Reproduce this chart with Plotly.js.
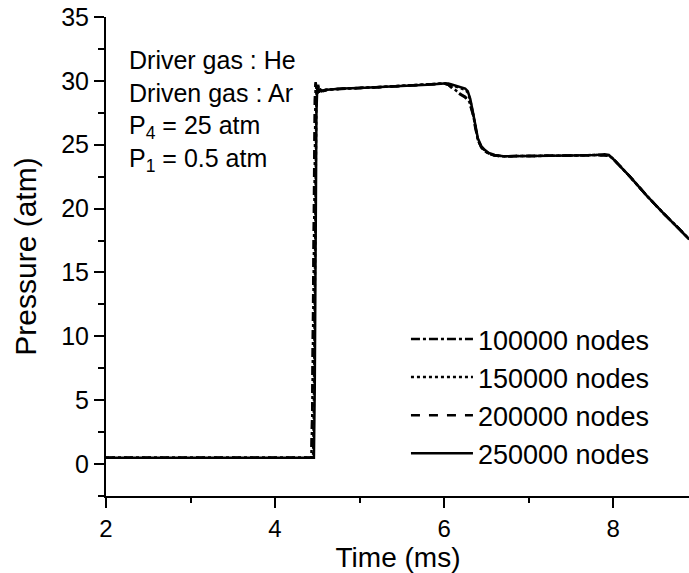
<!DOCTYPE html>
<html>
<head>
<meta charset="utf-8">
<script src="https://cdn.plot.ly/plotly-3.0.1.min.js"></script>
<style>
html,body{margin:0;padding:0;overflow:hidden;background:#fff;}
#chart{width:691px;height:573px;}
</style>
</head>
<body>
<div id="chart"></div>
<script>
// ---- data ----
const seriesNames = ["100000 nodes", "150000 nodes", "200000 nodes", "250000 nodes"];

const t100 = [2.0, 3.0, 4.0, 4.43, 4.44, 4.45, 4.46, 4.47, 4.48, 4.50, 4.52, 4.55, 4.6, 4.7, 4.8, 5.0, 5.2, 5.5, 5.8, 6.0, 6.05, 6.1, 6.15, 6.2, 6.25, 6.3, 6.34, 6.37, 6.40, 6.44, 6.48, 6.53, 6.6, 6.7, 6.9, 7.2, 7.5, 7.8, 7.9, 7.95, 8.0, 8.2, 8.4, 8.6, 8.8, 8.9];
const p100 = [0.5, 0.5, 0.5, 0.5, 3.5, 11.0, 21.0, 28.0, 29.8, 29.1, 29.4, 29.2, 29.3, 29.35, 29.4, 29.45, 29.5, 29.6, 29.7, 29.8, 29.7, 29.45, 29.15, 28.95, 28.75, 28.35, 27.5, 26.4, 25.4, 24.8, 24.5, 24.3, 24.15, 24.1, 24.1, 24.1, 24.15, 24.2, 24.2, 24.15, 23.9, 22.5, 21.0, 19.6, 18.3, 17.6];

const t150 = [2.0, 3.0, 4.0, 4.45, 4.46, 4.47, 4.48, 4.49, 4.50, 4.51, 4.52, 4.54, 4.57, 4.62, 4.7, 4.8, 5.0, 5.2, 5.5, 5.8, 6.0, 6.05, 6.1, 6.15, 6.2, 6.25, 6.28, 6.31, 6.34, 6.37, 6.40, 6.44, 6.48, 6.53, 6.6, 6.7, 6.9, 7.2, 7.5, 7.8, 7.9, 7.95, 8.0, 8.2, 8.4, 8.6, 8.8, 8.9];
const p150 = [0.5, 0.5, 0.5, 0.5, 5.0, 16.0, 26.5, 29.5, 29.1, 29.6, 29.2, 29.3, 29.2, 29.3, 29.35, 29.4, 29.45, 29.5, 29.6, 29.7, 29.8, 29.75, 29.65, 29.5, 29.4, 29.3, 29.1, 28.5, 27.5, 26.3, 25.4, 24.85, 24.55, 24.3, 24.15, 24.1, 24.1, 24.1, 24.15, 24.2, 24.2, 24.15, 23.9, 22.5, 21.0, 19.6, 18.3, 17.6];

const t200 = [2.0, 3.0, 4.0, 4.43, 4.44, 4.45, 4.46, 4.47, 4.48, 4.50, 4.52, 4.55, 4.6, 4.7, 4.8, 5.0, 5.2, 5.5, 5.8, 6.0, 6.05, 6.1, 6.15, 6.2, 6.25, 6.3, 6.34, 6.37, 6.40, 6.44, 6.48, 6.53, 6.6, 6.7, 6.9, 7.2, 7.5, 7.8, 7.9, 7.95, 8.0, 8.2, 8.4, 8.6, 8.8, 8.9];
const p200 = [0.5, 0.5, 0.5, 0.5, 4.0, 12.0, 22.0, 28.5, 29.9, 29.2, 29.4, 29.2, 29.3, 29.35, 29.4, 29.45, 29.5, 29.6, 29.7, 29.8, 29.7, 29.4, 29.1, 28.9, 28.7, 28.3, 27.4, 26.3, 25.4, 24.8, 24.5, 24.3, 24.15, 24.1, 24.1, 24.1, 24.15, 24.2, 24.2, 24.15, 23.9, 22.5, 21.0, 19.6, 18.3, 17.6];

const t250 = [2.0, 3.0, 4.0, 4.46, 4.47, 4.48, 4.49, 4.50, 4.505, 4.51, 4.52, 4.54, 4.57, 4.62, 4.7, 4.8, 5.0, 5.2, 5.5, 5.8, 6.0, 6.05, 6.1, 6.15, 6.2, 6.25, 6.28, 6.31, 6.34, 6.37, 6.40, 6.44, 6.48, 6.53, 6.6, 6.7, 6.9, 7.2, 7.5, 7.8, 7.9, 7.95, 8.0, 8.2, 8.4, 8.6, 8.8, 8.9];
const p250 = [0.5, 0.5, 0.5, 0.5, 6.0, 18.0, 27.5, 29.6, 29.0, 29.7, 29.1, 29.3, 29.2, 29.3, 29.35, 29.4, 29.45, 29.5, 29.6, 29.7, 29.8, 29.8, 29.7, 29.6, 29.5, 29.4, 29.2, 28.6, 27.6, 26.4, 25.5, 24.9, 24.6, 24.35, 24.2, 24.1, 24.1, 24.1, 24.15, 24.2, 24.25, 24.2, 23.9, 22.5, 21.0, 19.6, 18.3, 17.6];

const xTicks = [2, 4, 6, 8];
const yTicks = [0, 5, 10, 15, 20, 25, 30, 35];
const xRange = [2, 8.91];
const yRange = [-2.5, 35];
const noteLines = ["Driver gas : He", "Driven gas : Ar", "P<sub>4</sub> = 25 atm", "P<sub>1</sub> = 0.5 atm"];

// ---- chart ----
const FONT = "Liberation Sans, Arial, Helvetica, sans-serif";
const dashes = ["dashdot", "dot", "dash", "solid"];
const xs = [t100, t150, t200, t250];
const ys = [p100, p150, p200, p250];

const traces = seriesNames.map((n, i) => ({
  type: "scatter", mode: "lines", name: n,
  x: xs[i], y: ys[i],
  line: {color: "#000", width: 2.5, dash: dashes[i]},
  hoverinfo: "x+y+name"
}));

const axisBase = {
  showgrid: false, zeroline: false, showline: true,
  linecolor: "#000", linewidth: 2, tickcolor: "#000", tickwidth: 2
};

const layout = {
  width: 691, height: 573,
  margin: {l: 106, r: 1, t: 17, b: 77},
  paper_bgcolor: "#fff", plot_bgcolor: "#fff",
  font: {family: FONT, color: "#000", size: 25},
  showlegend: true,
  legend: {
    x: 0.94, xanchor: "right", y: 0.378, yanchor: "top",
    bgcolor: "rgba(0,0,0,0)", borderwidth: 0,
    font: {family: FONT, size: 27, color: "#000"},
    tracegroupgap: 0, itemwidth: 62
  },
  xaxis: Object.assign({}, axisBase, {
    range: xRange, tickmode: "array", tickvals: xTicks, ticktext: xTicks.map(String),
    ticks: "outside", ticklen: 10,
    minor: {dtick: 1, tick0: 2, ticks: "outside", ticklen: 5, tickwidth: 2, tickcolor: "#000"},
    tickfont: {family: FONT, size: 24, color: "#000"},
    title: {text: "Time (ms)", font: {family: FONT, size: 28, color: "#000"}, standoff: 4}
  }),
  yaxis: Object.assign({}, axisBase, {
    range: yRange, tickmode: "array", tickvals: yTicks, ticktext: yTicks.map(String),
    ticks: "outside", ticklen: 10,
    minor: {dtick: 2.5, tick0: 0, ticks: "outside", ticklen: 6, tickwidth: 2, tickcolor: "#000"},
    tickfont: {family: FONT, size: 25, color: "#000"},
    title: {text: "Pressure (atm)", font: {family: FONT, size: 30, color: "#000"}, standoff: 16}
  }),
  xaxis2: Object.assign({}, axisBase, {
    overlaying: "x", side: "top", anchor: "y", range: xRange,
    tickmode: "array", tickvals: xTicks, showticklabels: false,
    ticks: "inside", ticklen: 9,
    minor: {dtick: 1, tick0: 2, ticks: "inside", ticklen: 5, tickwidth: 2, tickcolor: "#000"}
  }),
  yaxis2: Object.assign({}, axisBase, {
    overlaying: "y", side: "right", anchor: "x", range: yRange,
    tickmode: "array", tickvals: yTicks, showticklabels: false,
    ticks: "inside", ticklen: 9,
    minor: {dtick: 2.5, tick0: 0, ticks: "inside", ticklen: 5, tickwidth: 2, tickcolor: "#000"}
  }),
  annotations: [{
    xref: "paper", yref: "paper", x: 0.036, y: 0.943, xanchor: "left", yanchor: "top",
    align: "left", showarrow: false,
    text: noteLines.join("<br>"),
    font: {family: FONT, size: 25, color: "#000"}
  }]
};

Plotly.newPlot("chart", traces, layout, {displayModeBar: false, staticPlot: true});
</script>
</body>
</html>
